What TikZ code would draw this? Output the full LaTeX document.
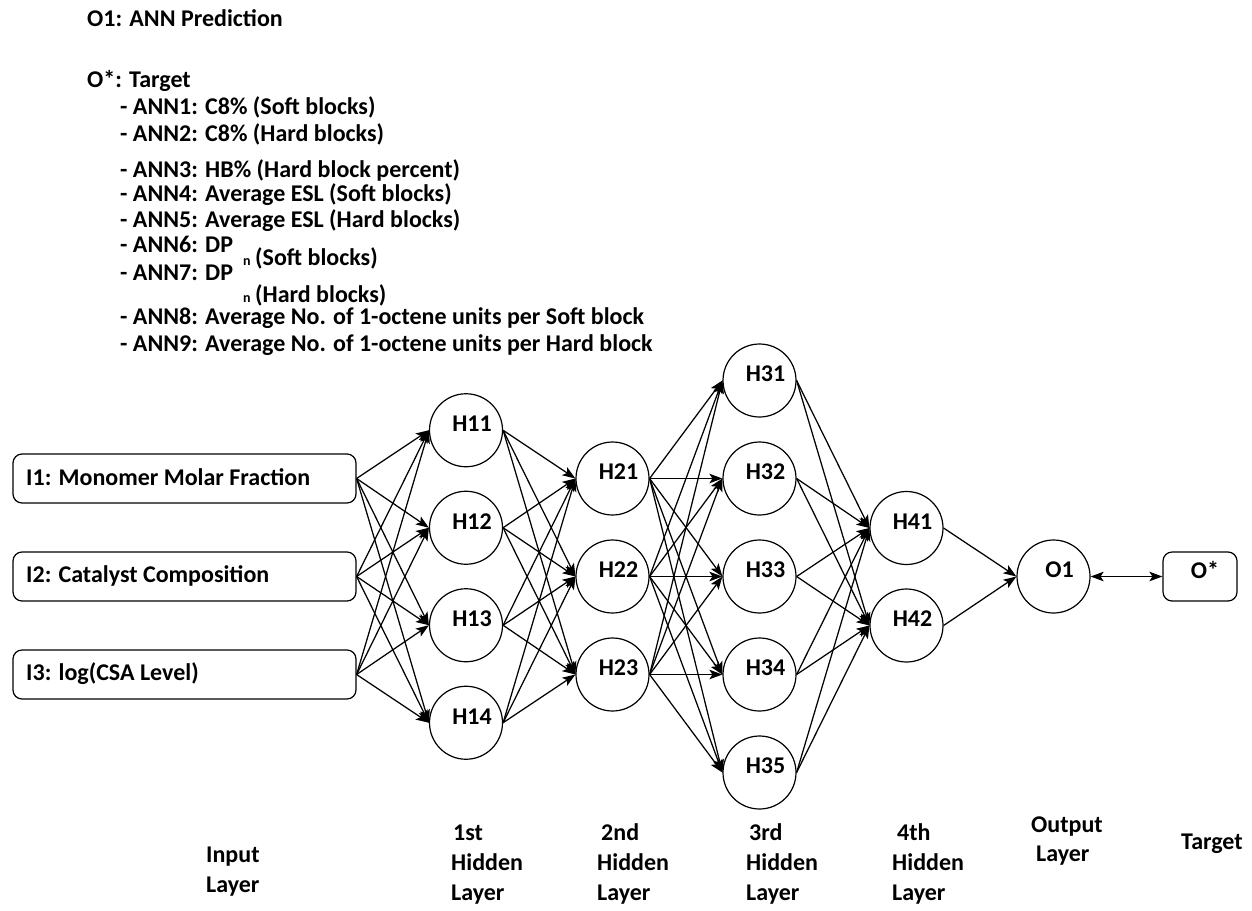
\documentclass[tikz,border=0pt]{standalone}
\usepackage{fontspec}
\setmainfont{Carlito}
\usetikzlibrary{arrows.meta}
\begin{document}
\begin{tikzpicture}[x=1pt,y=-1pt,
  every node/.style={font=\bfseries\fontsize{24}{24}\selectfont},
  txt/.style={inner sep=0pt,anchor=base west},
  sub/.style={inner sep=0pt,anchor=base west,font=\bfseries\fontsize{14}{14}\selectfont},
  neuron/.style={draw,circle,line width=1.2pt,minimum size=73pt,inner sep=0pt},
  inbox/.style={draw,rounded corners=9pt,line width=1.2pt,minimum width=343pt,minimum height=49pt,inner sep=0pt},
  tgtbox/.style={draw,rounded corners=9pt,line width=1.2pt,minimum width=74pt,minimum height=49pt,inner sep=0pt},
  lbl/.style={inner sep=0pt,xshift=6pt,yshift=6.5pt},
  conn/.style={line width=1.25pt,-{Stealth[length=13pt,width=9.5pt,inset=3pt]}},
  conn2/.style={line width=1.25pt,{Stealth[length=13pt,width=9.5pt,inset=3pt]}-{Stealth[length=13pt,width=9.5pt,inset=3pt]}}
]
\useasboundingbox[fill=white] (0,0) rectangle (1252,910);

% legend text
\node[txt] (t1) at (87,27) {O1: ANN Prediction};
\node[txt] (t2) at (87,87) {O*: Target};
\node[txt] (a1) at (120,114) {- ANN1: C8\% (Soft blocks)};
\node[txt] (a2) at (120,141) {- ANN2: C8\% (Hard blocks)};
\node[txt] (a3) at (120,177) {- ANN3: HB\% (Hard block percent)};
\node[txt] (a4) at (120,201) {- ANN4: Average ESL (Soft blocks)};
\node[txt] (a5) at (120,227) {- ANN5: Average ESL (Hard blocks)};
\node[txt] (a6) at (120,252) {- ANN6: DP};
\node[sub] (n6) at (243,265) {n};
\node[txt] (s6) at (255,265) {(Soft blocks)};
\node[txt] (a7) at (120,280) {- ANN7: DP};
\node[sub] (n7) at (243,302) {n};
\node[txt] (s7) at (255,302) {(Hard blocks)};
\node[txt] (a8) at (120,324) {- ANN8: Average No. of 1-octene units per Soft block};
\node[txt] (a9) at (120,351) {- ANN9: Average No. of 1-octene units per Hard block};

% input boxes
\node[inbox] (I1) at (184.5,478.5) {};
\node[inbox] (I2) at (184.5,576.5) {};
\node[inbox] (I3) at (184.5,674.5) {};
\node[txt] (I1t) at (26,485) {I1: Monomer Molar Fraction};
\node[txt] (I2t) at (26,582) {I2: Catalyst Composition};
\node[txt] (I3t) at (26,680) {I3: log(CSA Level)};

% hidden layer 1
\node[neuron,label={[lbl]center:H11}] (H11) at (466,430.25) {};
\node[neuron,label={[lbl]center:H12}] (H12) at (466,527.75) {};
\node[neuron,label={[lbl]center:H13}] (H13) at (466,625.25) {};
\node[neuron,label={[lbl]center:H14}] (H14) at (466,722.75) {};
% hidden layer 2
\node[neuron,label={[lbl]center:H21}] (H21) at (612.5,478.5) {};
\node[neuron,label={[lbl]center:H22}] (H22) at (612.5,576.5) {};
\node[neuron,label={[lbl]center:H23}] (H23) at (612.5,674.5) {};
% hidden layer 3
\node[neuron,label={[lbl]center:H31}] (H31) at (759.5,380.5) {};
\node[neuron,label={[lbl]center:H32}] (H32) at (759.5,478.5) {};
\node[neuron,label={[lbl]center:H33}] (H33) at (759.5,576.5) {};
\node[neuron,label={[lbl]center:H34}] (H34) at (759.5,674.5) {};
\node[neuron,label={[lbl]center:H35}] (H35) at (759.5,772.5) {};
% hidden layer 4
\node[neuron,label={[lbl]center:H41}] (H41) at (906.5,528) {};
\node[neuron,label={[lbl]center:H42}] (H42) at (906.5,625.5) {};
% output
\node[neuron,label={[lbl]center:O1}] (O1) at (1053.5,576.5) {};
\node[tgtbox,label={[lbl,xshift=-1pt]center:O*}] (Os) at (1200,576.5) {};

% connectors
\foreach \i in {1,2,3}{\foreach \j in {1,2,3,4}{\draw[conn] (I\i.east) -- (H1\j.west);}}
\foreach \i in {1,2,3,4}{\foreach \j in {1,2,3}{\draw[conn] (H1\i.east) -- (H2\j.west);}}
\foreach \i in {1,2,3}{\foreach \j in {1,2,3,4,5}{\draw[conn] (H2\i.east) -- (H3\j.west);}}
\foreach \i in {1,2,3,4,5}{\foreach \j in {1,2}{\draw[conn] (H3\i.east) -- (H4\j.west);}}
\foreach \i in {1,2}{\draw[conn] (H4\i.east) -- (O1.west);}
\draw[conn2] (O1.east) -- (Os.west);

% layer labels
\node[txt] (L1a) at (206,862) {Input};
\node[txt] (L1b) at (206,892) {Layer};
\node[txt] (L2a) at (453,840) {1st};
\node[txt] (L2b) at (451,870) {Hidden};
\node[txt] (L2c) at (451,900) {Layer};
\node[txt] (L3a) at (601,840) {2nd};
\node[txt] (L3b) at (597,870) {Hidden};
\node[txt] (L3c) at (597,900) {Layer};
\node[txt] (L4a) at (749,840) {3rd};
\node[txt] (L4b) at (746,870) {Hidden};
\node[txt] (L4c) at (746,900) {Layer};
\node[txt] (L5a) at (897,840) {4th};
\node[txt] (L5b) at (892,870) {Hidden};
\node[txt] (L5c) at (892,900) {Layer};
\node[txt] (L6a) at (1031,832) {Output};
\node[txt] (L6b) at (1036,861) {Layer};
\node[txt] (L7) at (1181,849) {Target};
\end{tikzpicture}
\end{document}
